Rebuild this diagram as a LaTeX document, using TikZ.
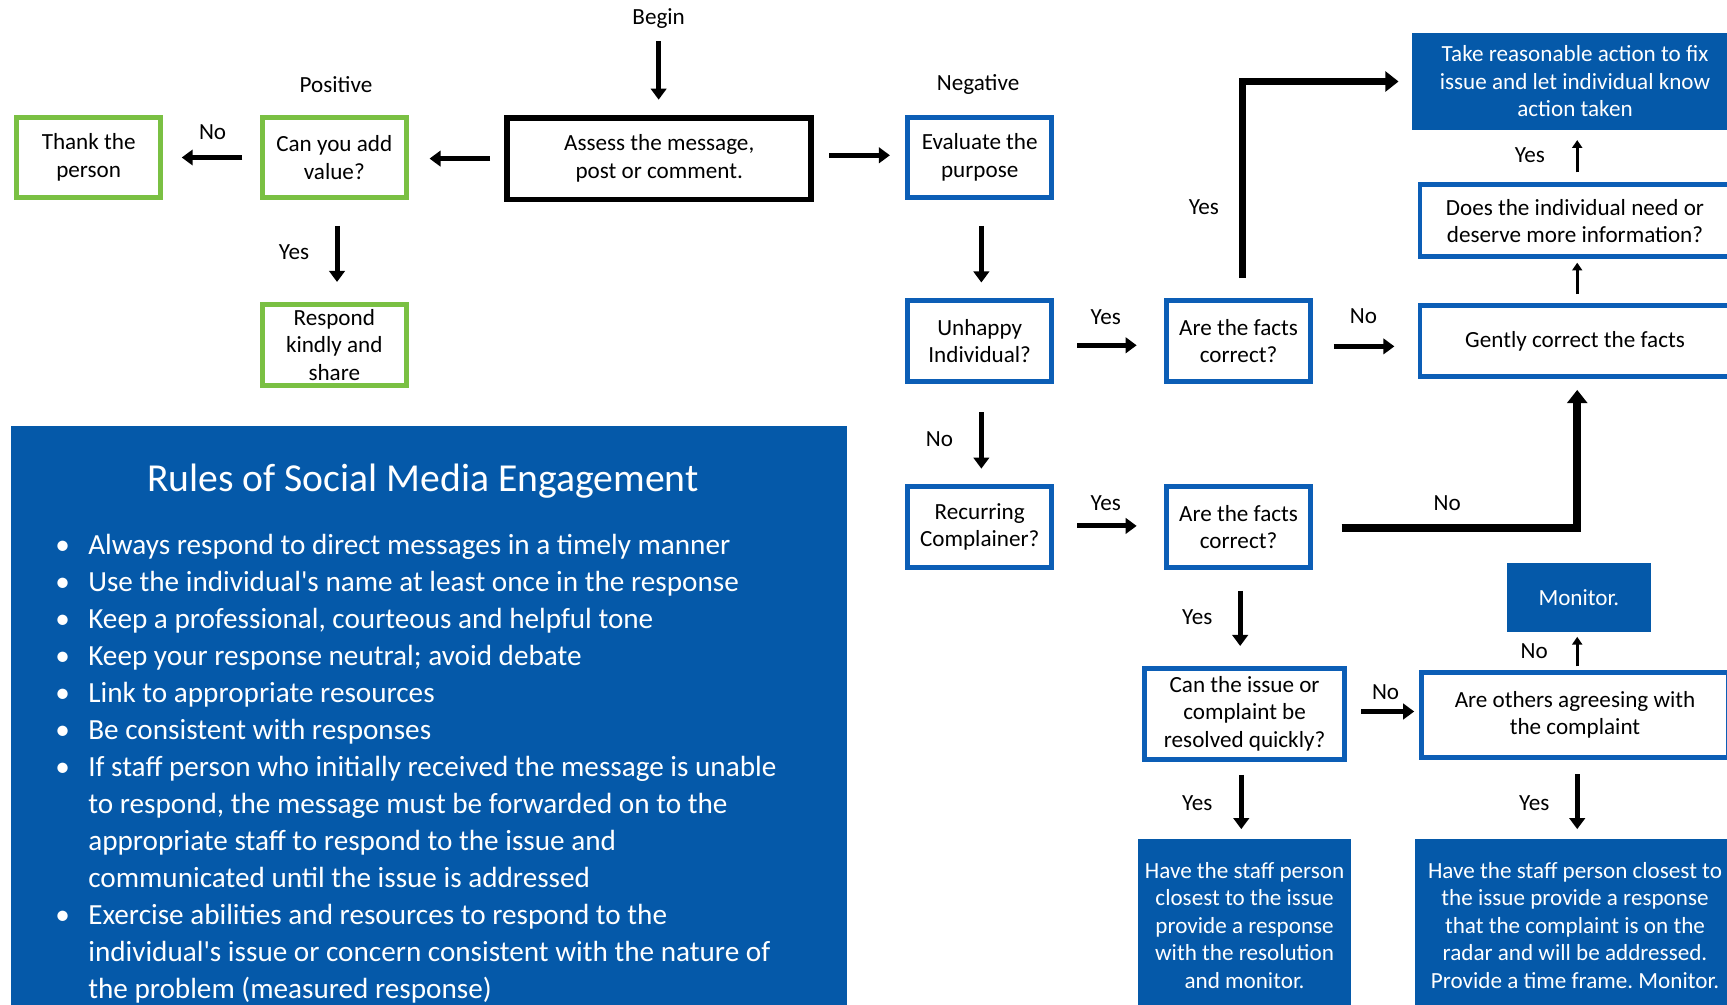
\documentclass[tikz,border=0pt]{standalone}
\usepackage{fontspec}
\setmainfont{Carlito}
\usetikzlibrary{arrows.meta,calc}
\definecolor{mblue}{RGB}{5,89,169}
\definecolor{bblue}{RGB}{12,94,182}
\definecolor{mgreen}{RGB}{122,192,67}
\frenchspacing
\begin{document}
\begin{tikzpicture}[x=1pt,y=-1pt,
  every node/.style={font=\fontsize{21}{25}\selectfont},
  box/.style={rectangle, align=center, inner sep=0pt},
  gbox/.style={box, draw=mgreen, line width=4.5pt, fill=white},
  bbox/.style={box, draw=bblue, line width=4.5pt, fill=white},
  kbox/.style={box, draw=black, line width=5pt, fill=white},
  fbox/.style={box, fill=mblue, text=white},
  sq/.style={minimum width=130.5pt, minimum height=73.5pt},
  lbl/.style={inner sep=0pt},
  arr/.style={line width=4.5pt, -{Triangle[length=10pt,width=14pt]}},
  barr/.style={line width=7pt, -{Triangle[length=12pt,width=18pt]}},
  tarr/.style={line width=2.6pt, -{Triangle[length=7pt,width=9pt]}}
]
\useasboundingbox (0,0) rectangle (1568,912);
\clip (0,0) rectangle (1568,912);

% --- nodes
\node[gbox, sq] (thank) at (80.5,143) {Thank the\\person};
\node[gbox, sq] (can) at (303.5,143) {Can you add\\value?};
\node[gbox, sq] (respond) at (303.5,313) {Respond\\kindly and\\share};
\node[kbox, minimum width=276pt, minimum height=74pt] (assess) at (598.5,144) {Assess the message,\\post or comment.};
\node[bbox, sq] (evaluate) at (889.5,143) {Evaluate the\\purpose};
\node[bbox, sq] (unhappy) at (889.5,309.5) {Unhappy\\Individual?};
\node[bbox, sq] (facts1) at (1124.5,309.5) {Are the facts\\correct?};
\node[bbox, sq] (recurring) at (889.5,478.5) {Recurring\\Complainer?};
\node[bbox, sq] (facts2) at (1124.5,478.5) {Are the facts\\correct?};
\node[bbox, minimum width=281.5pt, minimum height=64.5pt] (gently) at (1430,309.5) {Gently correct the facts};
\node[bbox, minimum width=281.5pt, minimum height=65.5pt] (doesneed) at (1430,200.5) {Does the individual need or\\deserve more information?};
\node[fbox, minimum width=296pt, minimum height=88pt] (take) at (1430,74) {Take reasonable action to fix\\issue and let individual know\\action taken};
\node[bbox, minimum width=181.5pt, minimum height=82.5pt] (canissue) at (1130,648) {Can the issue or\\complaint be\\resolved quickly?};
\node[bbox, minimum width=279.5pt, minimum height=77.5pt] (others) at (1430,649) {Are others agreesing with\\the complaint};
\node[fbox, minimum width=131pt, minimum height=63pt] (monitor) at (1433.5,542.5) {Monitor.};
\node[fbox, minimum width=194pt, minimum height=156pt] (staff1) at (1130,840) {Have the staff person\\closest to the issue\\provide a response\\with the resolution\\and monitor.};
\node[fbox, minimum width=290pt, minimum height=156pt] (staff2) at (1430,840) {Have the staff person closest to\\the issue provide a response\\that the complaint is on the\\radar and will be addressed.\\Provide a time frame. Monitor.};

% --- labels
\node[lbl] (begin) at (598,17) {Begin};
\node[lbl] (lpos) at (305,77) {Positive};
\node[lbl] (lneg) at (888,77) {Negative};
\node[lbl] (l1) at (193,120) {No};
\node[lbl] (l2) at (267,229) {Yes};
\node[lbl] (l3) at (1004,288) {Yes};
\node[lbl] (l4) at (1238,287) {No};
\node[lbl] (l5) at (1093,188) {Yes};
\node[lbl] (l6) at (1389,141) {Yes};
\node[lbl] (l7) at (853,399) {No};
\node[lbl] (l8) at (1004,457) {Yes};
\node[lbl] (l9) at (1314,457) {No};
\node[lbl] (l10) at (1087,560) {Yes};
\node[lbl] (l11) at (1258,628) {No};
\node[lbl] (l12) at (1393,591) {No};
\node[lbl] (l13) at (1087,729) {Yes};
\node[lbl] (l14) at (1393,729) {Yes};

% --- connectors
\draw[arr, shorten <=11pt, shorten >=14pt] (begin.south) -- (begin.south |- assess.north);
\draw[arr, shorten <=13pt, shorten >=19pt] (assess.west) -- (assess.west -| can.east);
\draw[arr, shorten <=16pt, shorten >=17pt] (can.west) -- (thank.east);
\draw[arr, shorten <=23pt, shorten >=18pt] ([xshift=2.5pt]can.south) -- ([xshift=2.5pt]respond.north);
\draw[arr, shorten <=14pt, shorten >=14pt] ([yshift=3pt]assess.east) -- ([yshift=3pt]assess.east -| evaluate.west);
\draw[arr, shorten <=23pt, shorten >=14pt] ([xshift=1.5pt]evaluate.south) -- ([xshift=1.5pt]unhappy.north);
\draw[arr, shorten <=21pt, shorten >=25pt] ([yshift=-4pt]unhappy.east) -- ([yshift=-4pt]facts1.west);
\draw[arr, shorten <=19pt, shorten >=21pt] ([yshift=-5pt]facts1.east) -- ([yshift=-5pt]facts1.east -| gently.west);
\draw[tarr, shorten <=8pt, shorten >=3pt] ([xshift=2pt]gently.north) -- ([xshift=2pt]doesneed.south);
\draw[tarr, shorten <=9pt, shorten >=9pt] ([xshift=2pt]doesneed.north) -- ([xshift=2pt]take.south);
\draw[barr, shorten >=12pt] ([xshift=3.5pt,yshift=18pt]facts1.north) |- (take.west);
\draw[arr, shorten <=26pt, shorten >=14pt] ([xshift=1.5pt]unhappy.south) -- ([xshift=1.5pt]recurring.north);
\draw[arr, shorten <=21pt, shorten >=25pt] ([yshift=1pt]recurring.east) -- ([yshift=1pt]facts2.west);
\draw[barr, shorten <=26pt, shorten >=10pt] ([yshift=-1pt]facts2.east) -| ([xshift=2pt]gently.south);
\draw[arr, shorten <=19pt, shorten >=18pt] ([xshift=1.5pt]facts2.south) -- ([xshift=1.5pt]facts2.south |- canissue.north);
\draw[arr, shorten <=13pt, shorten >=4pt] ([yshift=2pt]canissue.east) -- ([yshift=2pt]canissue.east -| others.west);
\draw[tarr, shorten <=3pt, shorten >=4pt] ([xshift=2pt]others.north) -- ([xshift=2pt]others.north |- monitor.south);
\draw[arr, shorten <=12pt, shorten >=9pt] ([xshift=-3pt]canissue.south) -- ([xshift=-3pt]canissue.south |- staff1.north);
\draw[arr, shorten <=13pt, shorten >=9pt] ([xshift=2pt]others.south) -- ([xshift=2pt]staff2.north);

% --- rules panel
\node[fbox, minimum width=759pt, minimum height=560pt, anchor=north west] (panel) at (10,387) {};
\node[lbl, text=white, font=\fontsize{36}{42}\selectfont] (title) at (384,437) {Rules of Social Media Engagement};
\node[lbl, text=white, anchor=north west, align=left, font=\fontsize{26.5}{33.6}\selectfont] (rules) at (50,485) {%
\makebox[30pt][l]{\textbullet}Always respond to direct messages in a timely manner\\
\makebox[30pt][l]{\textbullet}Use the individual\textquotesingle s name at least once in the response\\
\makebox[30pt][l]{\textbullet}Keep a professional, courteous and helpful tone\\
\makebox[30pt][l]{\textbullet}Keep your response neutral; avoid debate\\
\makebox[30pt][l]{\textbullet}Link to appropriate resources\\
\makebox[30pt][l]{\textbullet}Be consistent with responses\\
\makebox[30pt][l]{\textbullet}If staff person who initially received the message is unable\\
\hspace*{30pt}to respond, the message must be forwarded on to the\\
\hspace*{30pt}appropriate staff to respond to the issue and\\
\hspace*{30pt}communicated until the issue is addressed\\
\makebox[30pt][l]{\textbullet}Exercise abilities and resources to respond to the\\
\hspace*{30pt}individual\textquotesingle s issue or concern consistent with the nature of\\
\hspace*{30pt}the problem (measured response)};
\end{tikzpicture}
\end{document}
